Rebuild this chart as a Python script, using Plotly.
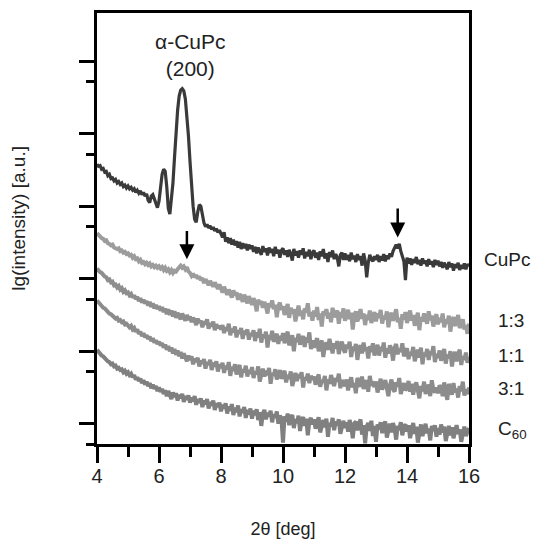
import numpy as np
import plotly.graph_objects as go

# lg(intensity), one value every 0.05 deg from 4 to 16 deg
cupc = [
    3.86, 3.83, 3.84, 3.79, 3.80, 3.75, 3.76, 3.70, 3.72, 3.66, 3.67, 3.63, 3.65, 3.60, 3.62, 3.58, 3.60, 3.55, 3.57, 3.53,
    3.56, 3.52, 3.54, 3.50, 3.52, 3.47, 3.50, 3.46, 3.49, 3.44, 3.47, 3.42, 3.45, 3.36, 3.33, 3.42, 3.44, 3.38, 3.30, 3.26,
    3.35, 3.55, 3.72, 3.79, 3.76, 3.55, 3.25, 3.17, 3.35, 3.60, 3.95, 4.30, 4.60, 4.80, 4.88, 4.90, 4.87, 4.76, 4.55, 4.25,
    3.90, 3.55, 3.28, 3.10, 3.06, 3.20, 3.30, 3.28, 3.15, 3.05, 3.00, 3.03, 2.98, 3.01, 2.96, 2.99, 2.94, 2.97, 2.92, 2.95,
    2.90, 2.85, 2.92, 2.79, 2.85, 2.77, 2.84, 2.75, 2.82, 2.74, 2.80, 2.71, 2.79, 2.69, 2.77, 2.70, 2.76, 2.67, 2.75, 2.69,
    2.74, 2.65, 2.72, 2.63, 2.71, 2.66, 2.61, 2.73, 2.65, 2.70, 2.60, 2.71, 2.64, 2.69, 2.59, 2.72, 2.63, 2.68, 2.57, 2.67,
    2.70, 2.61, 2.67, 2.58, 2.68, 2.62, 2.53, 2.69, 2.60, 2.66, 2.57, 2.67, 2.61, 2.70, 2.56, 2.65, 2.59, 2.68, 2.55, 2.64,
    2.67, 2.57, 2.64, 2.54, 2.66, 2.59, 2.69, 2.56, 2.63, 2.51, 2.65, 2.58, 2.67, 2.55, 2.62, 2.57, 2.45, 2.61, 2.64, 2.54,
    2.63, 2.54, 2.61, 2.52, 2.64, 2.55, 2.60, 2.51, 2.62, 2.54, 2.59, 2.46, 2.63, 2.53, 2.30, 2.50, 2.61, 2.55, 2.52, 2.59,
    2.54, 2.61, 2.51, 2.59, 2.53, 2.62, 2.52, 2.60, 2.55, 2.63, 2.58, 2.66, 2.72, 2.75, 2.70, 2.76, 2.66, 2.58, 2.52, 2.26,
    2.57, 2.49, 2.56, 2.47, 2.55, 2.50, 2.58, 2.48, 2.54, 2.46, 2.56, 2.49, 2.53, 2.45, 2.55, 2.48, 2.52, 2.44, 2.54, 2.47,
    2.53, 2.45, 2.51, 2.43, 2.50, 2.46, 2.41, 2.51, 2.44, 2.49, 2.39, 2.48, 2.43, 2.50, 2.40, 2.47, 2.42, 2.49, 2.41, 2.48, 2.45,
]
mix_1_3 = [
    2.91, 2.88, 2.87, 2.84, 2.83, 2.80, 2.81, 2.77, 2.76, 2.74, 2.75, 2.71, 2.70, 2.69, 2.70, 2.66, 2.67, 2.64, 2.65, 2.62,
    2.63, 2.60, 2.61, 2.57, 2.59, 2.55, 2.56, 2.52, 2.54, 2.50, 2.51, 2.48, 2.50, 2.47, 2.49, 2.45, 2.47, 2.44, 2.46, 2.43,
    2.45, 2.42, 2.44, 2.40, 2.43, 2.39, 2.41, 2.37, 2.40, 2.36, 2.39, 2.38, 2.41, 2.44, 2.46, 2.43, 2.45, 2.41, 2.44, 2.38,
    2.36, 2.32, 2.35, 2.30, 2.33, 2.28, 2.31, 2.26, 2.29, 2.22, 2.27, 2.24, 2.19, 2.25, 2.21, 2.17, 2.23, 2.18, 2.14, 2.20,
    2.15, 2.09, 2.17, 2.11, 2.06, 2.13, 2.08, 2.02, 2.12, 2.05, 2.09, 1.99, 2.07, 2.03, 1.96, 2.06, 2.00, 1.94, 2.04, 1.98,
    1.92, 2.01, 1.95, 1.83, 1.99, 1.93, 1.97, 1.88, 1.96, 1.90, 1.80, 1.94, 1.89, 1.98, 1.86, 1.92, 1.75, 1.90, 1.95, 1.85,
    1.90, 1.78, 1.85, 1.93, 1.74, 1.88, 1.80, 1.86, 1.69, 1.83, 1.91, 1.77, 1.84, 1.72, 1.87, 1.81, 1.94, 1.76, 1.82, 1.70,
    1.84, 1.76, 1.89, 1.71, 1.80, 1.62, 1.83, 1.78, 1.86, 1.73, 1.81, 1.68, 1.88, 1.75, 1.79, 1.84, 1.66, 1.82, 1.74, 1.87,
    1.70, 1.79, 1.85, 1.72, 1.81, 1.58, 1.77, 1.83, 1.69, 1.76, 1.86, 1.73, 1.80, 1.64, 1.78, 1.71, 1.84, 1.67, 1.75, 1.82,
    1.69, 1.80, 1.74, 1.85, 1.66, 1.77, 1.72, 1.83, 1.61, 1.76, 1.81, 1.70, 1.78, 1.86, 1.68, 1.74, 1.59, 1.79, 1.72, 1.82,
    1.67, 1.76, 1.84, 1.70, 1.78, 1.63, 1.74, 1.81, 1.57, 1.75, 1.69, 1.80, 1.72, 1.66, 1.83, 1.71, 1.77, 1.62, 1.73, 1.79,
    1.65, 1.74, 1.68, 1.80, 1.61, 1.72, 1.66, 1.77, 1.55, 1.70, 1.75, 1.63, 1.69, 1.78, 1.60, 1.67, 1.72, 1.58, 1.64, 1.52, 1.66,
]
mix_1_1 = [
    2.42, 2.39, 2.37, 2.36, 2.33, 2.31, 2.30, 2.26, 2.27, 2.23, 2.24, 2.19, 2.20, 2.16, 2.18, 2.13, 2.15, 2.10, 2.12, 2.08,
    2.09, 2.05, 2.07, 2.02, 2.05, 2.00, 2.03, 1.97, 2.01, 1.95, 1.99, 1.94, 1.97, 1.91, 1.96, 1.89, 1.94, 1.87, 1.92, 1.86,
    1.90, 1.84, 1.89, 1.82, 1.87, 1.79, 1.86, 1.78, 1.84, 1.76, 1.83, 1.74, 1.81, 1.77, 1.72, 1.80, 1.75, 1.70, 1.78, 1.71,
    1.76, 1.68, 1.74, 1.71, 1.64, 1.73, 1.67, 1.70, 1.61, 1.69, 1.65, 1.72, 1.59, 1.67, 1.62, 1.69, 1.57, 1.65, 1.60, 1.63,
    1.58, 1.64, 1.53, 1.61, 1.56, 1.66, 1.50, 1.59, 1.54, 1.62, 1.47, 1.57, 1.52, 1.60, 1.45, 1.56, 1.51, 1.58, 1.44, 1.53,
    1.49, 1.57, 1.42, 1.54, 1.47, 1.59, 1.40, 1.51, 1.46, 1.55, 1.33, 1.50, 1.44, 1.56, 1.41, 1.48, 1.52, 1.38, 1.49, 1.43,
    1.53, 1.39, 1.47, 1.55, 1.36, 1.45, 1.50, 1.28, 1.46, 1.41, 1.52, 1.37, 1.44, 1.49, 1.34, 1.47, 1.40, 1.54, 1.31, 1.43,
    1.33, 1.41, 1.46, 1.28, 1.37, 1.43, 1.20, 1.35, 1.40, 1.30, 1.45, 1.34, 1.25, 1.39, 1.32, 1.42, 1.24, 1.36, 1.41, 1.31,
    1.26, 1.37, 1.32, 1.41, 1.20, 1.34, 1.29, 1.38, 1.16, 1.31, 1.36, 1.25, 1.40, 1.28, 1.33, 1.18, 1.35, 1.27, 1.39, 1.22,
    1.31, 1.37, 1.22, 1.34, 1.28, 1.40, 1.19, 1.32, 1.25, 1.36, 1.30, 1.15, 1.33, 1.38, 1.24, 1.31, 1.27, 1.39, 1.21, 1.29,
    1.32, 1.17, 1.27, 1.22, 1.34, 1.14, 1.25, 1.30, 1.19, 1.33, 1.10, 1.26, 1.21, 1.31, 1.16, 1.28, 1.23, 1.35, 1.13, 1.24,
    1.19, 1.29, 1.15, 1.25, 1.31, 1.11, 1.23, 1.18, 1.28, 1.07, 1.22, 1.27, 1.14, 1.24, 1.30, 1.09, 1.21, 1.16, 1.26, 1.12, 1.20,
]
mix_3_1 = [
    1.98, 1.95, 1.93, 1.91, 1.88, 1.87, 1.84, 1.83, 1.80, 1.79, 1.77, 1.76, 1.73, 1.74, 1.70, 1.71, 1.68, 1.69, 1.65, 1.66,
    1.64, 1.61, 1.63, 1.58, 1.60, 1.55, 1.58, 1.52, 1.55, 1.49, 1.53, 1.47, 1.50, 1.45, 1.48, 1.42, 1.46, 1.40, 1.43, 1.38,
    1.41, 1.36, 1.39, 1.33, 1.37, 1.30, 1.35, 1.28, 1.33, 1.25, 1.31, 1.23, 1.29, 1.21, 1.27, 1.18, 1.25, 1.20, 1.14, 1.22,
    1.16, 1.21, 1.10, 1.18, 1.13, 1.19, 1.07, 1.15, 1.11, 1.17, 1.04, 1.13, 1.09, 1.16, 1.02, 1.12, 1.07, 1.14, 1.00, 1.10,
    1.05, 1.12, 0.98, 1.08, 1.03, 1.13, 0.94, 1.06, 1.01, 1.10, 0.96, 1.04, 1.09, 0.92, 1.03, 0.99, 1.08, 0.93, 1.02, 0.97,
    1.06, 0.91, 1.00, 0.96, 1.07, 0.86, 0.99, 1.04, 0.93, 1.01, 0.95, 1.05, 0.83, 0.98, 0.94, 1.03, 0.89, 0.97, 1.02, 0.90,
    0.96, 1.01, 0.85, 0.95, 0.90, 1.00, 0.80, 0.93, 0.98, 0.87, 0.96, 0.91, 0.99, 0.78, 0.92, 0.88, 0.97, 0.84, 0.94, 0.89,
    0.93, 0.82, 0.90, 0.96, 0.79, 0.88, 0.85, 0.94, 0.74, 0.89, 0.83, 0.95, 0.87, 0.80, 0.91, 0.86, 0.97, 0.77, 0.88, 0.84,
    0.80, 0.89, 0.74, 0.86, 0.92, 0.78, 0.84, 0.70, 0.91, 0.85, 0.79, 0.93, 0.76, 0.82, 0.88, 0.72, 0.94, 0.81, 0.83, 0.79,
    0.86, 0.71, 0.82, 0.90, 0.75, 0.80, 0.88, 0.77, 0.66, 0.81, 0.89, 0.76, 0.72, 0.85, 0.79, 0.91, 0.69, 0.78, 0.84, 0.74,
    0.77, 0.87, 0.72, 0.83, 0.68, 0.79, 0.85, 0.74, 0.63, 0.80, 0.73, 0.86, 0.69, 0.76, 0.82, 0.66, 0.88, 0.75, 0.71, 0.78,
    0.70, 0.81, 0.77, 0.66, 0.85, 0.72, 0.61, 0.83, 0.75, 0.68, 0.84, 0.71, 0.76, 0.64, 0.80, 0.73, 0.86, 0.67, 0.75, 0.69, 0.78,
]
c60 = [
    1.30, 1.27, 1.25, 1.22, 1.21, 1.18, 1.17, 1.14, 1.13, 1.10, 1.11, 1.07, 1.08, 1.04, 1.05, 1.02, 1.03, 0.99, 1.01, 0.97,
    0.99, 0.95, 0.97, 0.92, 0.95, 0.89, 0.92, 0.87, 0.90, 0.84, 0.88, 0.82, 0.86, 0.80, 0.84, 0.77, 0.82, 0.76, 0.80, 0.73,
    0.78, 0.72, 0.76, 0.69, 0.74, 0.66, 0.73, 0.68, 0.62, 0.71, 0.65, 0.70, 0.60, 0.68, 0.63, 0.69, 0.58, 0.66, 0.61, 0.67,
    0.57, 0.64, 0.59, 0.66, 0.54, 0.62, 0.57, 0.63, 0.51, 0.60, 0.55, 0.62, 0.49, 0.58, 0.53, 0.60, 0.47, 0.56, 0.51, 0.57,
    0.45, 0.54, 0.49, 0.56, 0.42, 0.52, 0.46, 0.55, 0.40, 0.50, 0.44, 0.53, 0.38, 0.48, 0.43, 0.51, 0.36, 0.47, 0.41, 0.49,
    0.35, 0.46, 0.40, 0.48, 0.33, 0.44, 0.25, 0.42, 0.47, 0.34, 0.43, 0.38, 0.46, 0.30, 0.41, 0.36, 0.45, 0.28, 0.39, 0.35,
    0.02, 0.38, 0.31, 0.42, 0.26, 0.36, 0.40, 0.22, 0.34, 0.29, 0.39, 0.18, 0.33, 0.37, 0.25, 0.35, 0.12, 0.31, 0.36, 0.27,
    0.34, 0.21, 0.30, 0.37, 0.16, 0.28, 0.33, 0.23, 0.35, 0.10, 0.29, 0.24, 0.36, 0.19, 0.31, 0.26, 0.34, 0.14, 0.27, 0.32,
    0.22, 0.30, 0.17, 0.33, 0.25, 0.08, 0.28, 0.31, 0.19, 0.27, 0.34, 0.13, 0.26, 0.01, 0.24, 0.29, 0.18, 0.32, 0.11, 0.25,
    0.03, 0.27, 0.20, 0.30, 0.15, 0.26, 0.31, 0.09, 0.23, 0.28, 0.16, 0.29, 0.21, 0.06, 0.25, 0.19, 0.30, 0.12, 0.24, 0.27,
    0.17, 0.26, 0.08, 0.22, 0.29, 0.14, 0.24, 0.02, 0.20, 0.27, 0.11, 0.23, 0.28, 0.15, 0.21, 0.05, 0.25, 0.18, 0.26, 0.10,
    0.22, 0.13, 0.27, 0.16, 0.24, 0.04, 0.19, 0.25, 0.12, 0.23, 0.08, 0.21, 0.26, 0.14, 0.20, 0.03, 0.18, 0.24, 0.11, 0.17, 0.22,
]

# name, values, colour, line width, label height (lg units), label left edge (paper)
series = [
    ("C<sub>60</sub>", c60, "#808080", 4, 0.19, 1.075),
    ("3:1", mix_3_1, "#8c8c8c", 4, 0.77, 1.075),
    ("1:1", mix_1_1, "#8e8e8e", 4, 1.22, 1.075),
    ("1:3", mix_1_3, "#9c9c9c", 4, 1.70, 1.075),
    ("CuPc", cupc, "#3a3a3a", 3.2, 2.55, 1.038),
]
# reflex markers: (2theta, arrow tip, arrow tail)
arrows = [(6.9, 2.55, 2.96), (13.7, 2.85, 3.27)]

font = "Liberation Sans, Arial, sans-serif"
fig = go.Figure()
for name, values, color, width, label_y, label_x in series:
    angle = np.linspace(4, 16, len(values))
    fig.add_trace(go.Scatter(x=angle, y=values, mode="lines", name=name,
                             line=dict(color=color, width=width), showlegend=False))
    fig.add_annotation(text=name, xref="paper", x=label_x, y=label_y, xanchor="left",
                       showarrow=False, borderpad=0, font=dict(size=19, color="#222"))

for x, tip, tail in arrows:
    fig.add_annotation(x=x, y=tip, ax=x, ay=tail, axref="x", ayref="y", text="",
                       showarrow=True, arrowhead=2, arrowsize=1.2, arrowwidth=2.5, arrowcolor="black")

fig.add_annotation(x=7.0, y=5.37, text="α-CuPc<br>(200)", showarrow=False,
                   font=dict(size=21, color="#222"))
fig.add_annotation(text="lg(intensity) [a.u.]", xref="paper", yref="paper", x=-0.212, y=0.523,
                   xanchor="center", yanchor="middle", textangle=-90, showarrow=False,
                   font=dict(size=19, color="#222"))

axis_common = dict(showline=True, linecolor="black", linewidth=2.5, mirror=True, showgrid=False,
                   zeroline=False, ticks="outside", tickcolor="black", tickwidth=2.5)
fig.update_xaxes(range=[4, 16], dtick=2, tick0=4, ticklen=16, ticklabelstandoff=-4,
                 minor=dict(dtick=1, ticklen=10, tickwidth=2.5, tickcolor="black", ticks="outside"),
                 title=dict(text="2θ [deg]", font=dict(size=18), standoff=38),
                 tickfont=dict(size=20), **axis_common)
fig.update_yaxes(range=[0, 5.945], tickmode="array", tickvals=[0.28, 1.28, 2.28, 3.28, 4.28, 5.28],
                 ticklen=15, showticklabels=False,
                 minor=dict(tickmode="array", tickvals=[0, 1, 2, 3, 4, 5], ticklen=8, tickwidth=2.5,
                            tickcolor="black", ticks="outside"),
                 **axis_common)
# the page body adds an 8 px margin, so the figure is sized to fit the window
fig.update_layout(width=533, height=531, template="plotly_white", plot_bgcolor="white",
                  margin=dict(l=89, r=72, t=2, b=95), font=dict(family=font, color="#222"))
fig.write_html("out.html")
